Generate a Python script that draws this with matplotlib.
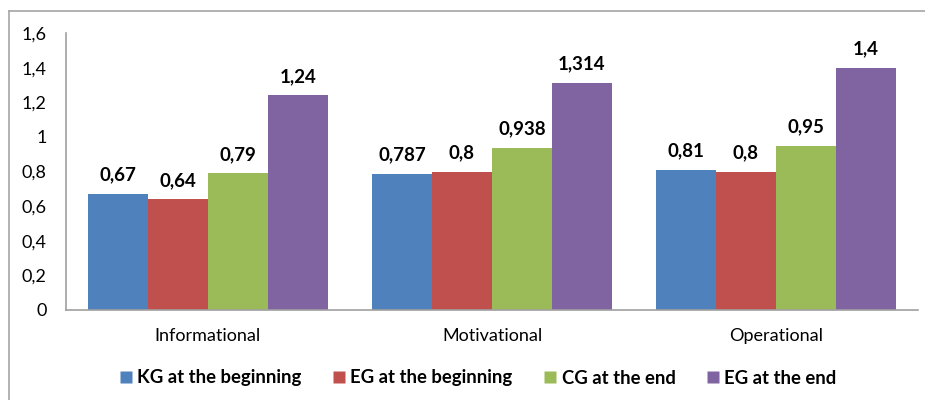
import matplotlib
matplotlib.use("Agg")
import matplotlib.pyplot as plt
import numpy as np
from matplotlib.lines import Line2D

categories = ["Informational", "Motivational", "Operational"]
series_names = ["KG at the beginning", "EG at the beginning", "CG at the end", "EG at the end"]
kg_begin = [0.67, 0.787, 0.81]
eg_begin = [0.64, 0.8, 0.8]
cg_end = [0.79, 0.938, 0.95]
eg_end = [1.24, 1.314, 1.4]
label_texts = [["0,67", "0,787", "0,81"], ["0,64", "0,8", "0,8"],
               ["0,79", "0,938", "0,95"], ["1,24", "1,314", "1,4"]]
yticks = [0, 0.2, 0.4, 0.6, 0.8, 1.0, 1.2, 1.4, 1.6]
ytick_labels = ["0", "0,2", "0,4", "0,6", "0,8", "1", "1,2", "1,4", "1,6"]
colors = ["#4F81BD", "#C0504D", "#9BBB59", "#8064A2"]

plt.rcParams['font.family'] = ['Lato', 'DejaVu Sans']

fig = plt.figure(figsize=(9.25, 4.0), dpi=100)
W, H = 925, 400
ax = fig.add_axes([66 / W, 1 - 310 / H, (918 - 66) / W, (310 - 33) / H])

series = [kg_begin, eg_begin, cg_end, eg_end]
x = np.arange(len(categories))
bw = 0.2113
for i, (vals, c, name) in enumerate(zip(series, colors, series_names)):
    pos = x + (i - 1.5) * bw
    ax.bar(pos, vals, width=bw, color=c, label=name, edgecolor='none')
    for p, v, t in zip(pos, vals, label_texts[i]):
        ax.text(p, v + 0.06, t, ha='center', va='bottom', fontsize=13.5, fontweight='bold')

ax.set_xlim(-0.5, 2.5)
ax.set_ylim(0, 1.6)
ax.set_yticks(yticks)
ax.set_yticklabels(ytick_labels, fontsize=13)
ax.set_xticks(x)
ax.set_xticklabels(categories, fontsize=13)
ax.tick_params(axis='y', length=0, pad=14)
ax.tick_params(axis='x', length=0, pad=13)
for s in ['top', 'right']:
    ax.spines[s].set_visible(False)
for s in ['left', 'bottom']:
    ax.spines[s].set_color('#A0A0A0')
    ax.spines[s].set_linewidth(1.2)

handles = [Line2D([0], [0], marker='s', linestyle='none', markersize=8,
                  markerfacecolor=c, markeredgecolor='none') for c in colors]
leg = fig.legend(handles, series_names, loc='center', bbox_to_anchor=(478 / W, 1 - 378 / H),
                 ncol=4, frameon=False, handlelength=0.7, handletextpad=0.25,
                 columnspacing=1.7, prop={'weight': 'bold', 'size': 13.3})

# outer frame
fig.add_artist(Line2D([9 / W, 9 / W], [0, 1 - 11 / H], transform=fig.transFigure,
                      color='#A6A6A6', linewidth=1.2))
fig.add_artist(Line2D([9 / W, 1], [1 - 11 / H, 1 - 11 / H], transform=fig.transFigure,
                      color='#A6A6A6', linewidth=1.2))

fig.savefig("out.png", dpi=100)
